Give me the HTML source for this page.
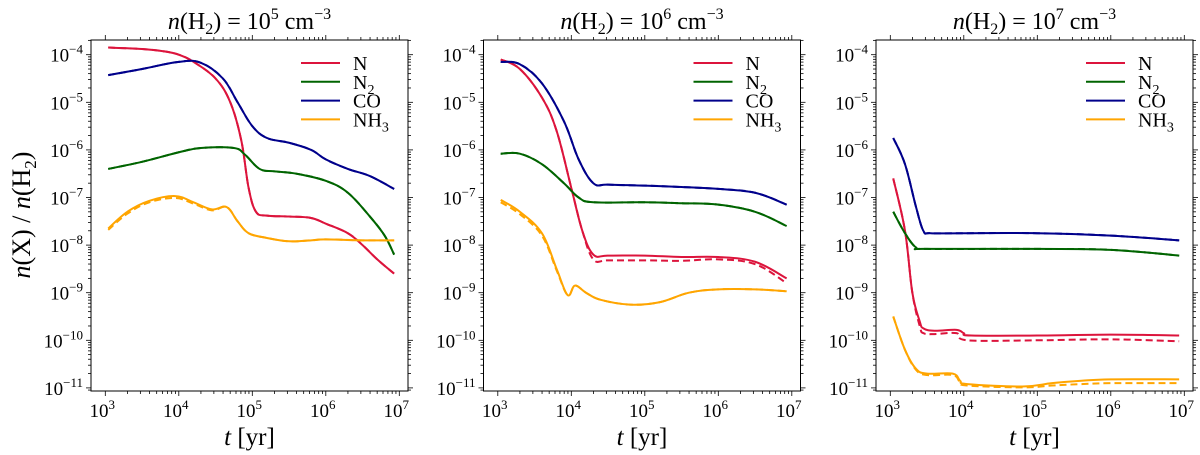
<!DOCTYPE html>
<html><head><meta charset="utf-8"><style>
body{margin:0;background:#fff}
svg{display:block;font-family:"Liberation Serif",serif}
</style></head><body>
<svg id="fig" width="1200" height="455" viewBox="0 0 1200 455" xmlns="http://www.w3.org/2000/svg"></svg>
<script>
const species = ["N","N2","CO","NH3"];
const colors = ["#dc143c","#006400","#00008b","#ffa500"];
const densityExp = [5,6,7];
const xTickExp = [3,4,5,6,7];
const yTickExp = [-4,-5,-6,-7,-8,-9,-10,-11];
// data: [log10 t, log10 abundance]
const p1N = [[3.04,-3.85],[3.5,-3.88],[3.8,-3.93],[4.0,-4.0],[4.2,-4.15],[4.5,-4.5],[4.7,-5.0],[4.85,-5.8],[4.95,-6.8],[5.05,-7.3],[5.2,-7.38],[5.5,-7.4],[5.8,-7.43],[6.0,-7.55],[6.3,-7.75],[6.5,-8.0],[6.7,-8.3],[6.93,-8.6]];
const p1N2 = [[3.04,-6.4],[3.5,-6.25],[4.0,-6.05],[4.3,-5.96],[4.75,-5.96],[4.9,-6.1],[5.1,-6.4],[5.3,-6.45],[5.6,-6.5],[6.0,-6.65],[6.3,-6.9],[6.6,-7.4],[6.8,-7.8],[6.93,-8.2]];
const p1CO = [[3.04,-4.43],[3.5,-4.3],[4.0,-4.15],[4.3,-4.17],[4.6,-4.5],[4.8,-5.0],[5.0,-5.5],[5.2,-5.75],[5.5,-5.85],[5.8,-6.0],[6.0,-6.2],[6.3,-6.4],[6.6,-6.55],[6.93,-6.82]];
const p1NH3 = [[3.04,-7.65],[3.3,-7.3],[3.6,-7.07],[3.95,-6.97],[4.2,-7.1],[4.45,-7.25],[4.65,-7.2],[4.8,-7.5],[4.95,-7.75],[5.2,-7.85],[5.5,-7.92],[5.8,-7.9],[6.0,-7.88],[6.5,-7.9],[6.93,-7.9]];
const p1NH3d = [[3.04,-7.68],[3.3,-7.34],[3.6,-7.1],[3.95,-7.01],[4.2,-7.13],[4.45,-7.27],[4.65,-7.2],[4.8,-7.5],[4.95,-7.75],[5.2,-7.85],[5.5,-7.92],[5.8,-7.9],[6.0,-7.88],[6.5,-7.9],[6.93,-7.9]];
const p2N = [[3.04,-4.1],[3.3,-4.3],[3.6,-4.9],[3.8,-5.6],[4.0,-6.8],[4.15,-7.7],[4.3,-8.2],[4.5,-8.22],[5,-8.22],[5.5,-8.25],[6,-8.25],[6.5,-8.35],[6.93,-8.7]];
const p2Nd = [[3.04,-4.1],[3.3,-4.3],[3.6,-4.9],[3.8,-5.6],[4.0,-6.8],[4.15,-7.7],[4.3,-8.3],[4.5,-8.32],[5,-8.32],[5.5,-8.33],[6,-8.3],[6.5,-8.4],[6.93,-8.8]];
const p2N2 = [[3.04,-6.08],[3.3,-6.08],[3.6,-6.3],[3.9,-6.7],[4.1,-7.0],[4.3,-7.1],[5,-7.1],[5.5,-7.12],[6,-7.15],[6.5,-7.3],[6.93,-7.6]];
const p2CO = [[3.04,-4.15],[3.3,-4.2],[3.6,-4.6],[3.9,-5.4],[4.1,-6.2],[4.3,-6.7],[4.5,-6.73],[5,-6.75],[5.5,-6.78],[6,-6.82],[6.5,-6.9],[6.93,-7.15]];
const p2NH3 = [[3.04,-7.05],[3.3,-7.3],[3.6,-7.75],[3.8,-8.5],[3.95,-9.05],[4.05,-8.85],[4.2,-9.0],[4.4,-9.15],[4.8,-9.25],[5.2,-9.2],[5.6,-9.0],[6.0,-8.93],[6.5,-8.93],[6.93,-8.97]];
const p2NH3d = [[3.04,-7.1],[3.3,-7.35],[3.6,-7.8],[3.8,-8.53],[3.95,-9.05],[4.05,-8.85],[4.2,-9.0],[4.4,-9.15],[4.8,-9.25],[5.2,-9.2],[5.6,-9.0],[6.0,-8.93],[6.5,-8.93],[6.93,-8.97]];
const p3N = [[3.04,-6.6],[3.2,-7.7],[3.3,-9.0],[3.4,-9.6],[3.45,-9.75],[3.6,-9.8],[3.9,-9.78],[4.0,-9.85],[4.1,-9.9],[5,-9.9],[6,-9.88],[6.93,-9.9]];
const p3Nd = [[3.04,-6.6],[3.2,-7.7],[3.3,-9.0],[3.4,-9.7],[3.45,-9.85],[3.6,-9.87],[3.9,-9.85],[4.05,-10.0],[5,-10.0],[6,-9.98],[6.93,-10.02]];
const p3N2 = [[3.04,-7.3],[3.2,-7.75],[3.35,-8.05],[3.5,-8.08],[5,-8.08],[6,-8.1],[6.93,-8.22]];
const p3CO = [[3.04,-5.75],[3.2,-6.3],[3.35,-7.2],[3.45,-7.7],[3.55,-7.75],[4,-7.75],[5,-7.75],[6,-7.8],[6.93,-7.9]];
const p3NH3 = [[3.04,-9.5],[3.2,-10.2],[3.35,-10.6],[3.5,-10.7],[3.85,-10.7],[3.95,-10.85],[4.05,-10.92],[4.8,-10.97],[5.2,-10.9],[5.6,-10.85],[6,-10.82],[6.93,-10.82]];
const p3NH3d = [[3.04,-9.5],[3.2,-10.2],[3.35,-10.62],[3.5,-10.73],[3.85,-10.73],[3.95,-10.88],[4.05,-10.95],[4.8,-10.99],[5.2,-10.95],[5.6,-10.92],[6,-10.9],[6.93,-10.9]];

const panels = [
 {solid:[p1N,p1N2,p1CO,p1NH3], dashed:[p1N,p1N2,p1CO,p1NH3d]},
 {solid:[p2N,p2N2,p2CO,p2NH3], dashed:[p2Nd,p2N2,p2CO,p2NH3d]},
 {solid:[p3N,p3N2,p3CO,p3NH3], dashed:[p3Nd,p3N2,p3CO,p3NH3d]}
];
const NS="http://www.w3.org/2000/svg";
const svg=document.getElementById('fig');
function mk(tag,attrs,parent){const e=document.createElementNS(NS,tag);for(const k in attrs)e.setAttribute(k,attrs[k]);(parent||svg).appendChild(e);return e;}
function smooth(pts){
  let d='M'+pts[0][0]+','+pts[0][1];
  for(let i=0;i<pts.length-1;i++){
    const p0=pts[Math.max(0,i-1)],p1=pts[i],p2=pts[i+1],p3=pts[Math.min(pts.length-1,i+2)];
    const t=0.18;
    const c1=[p1[0]+(p2[0]-p0[0])*t,p1[1]+(p2[1]-p0[1])*t];
    const c2=[p2[0]-(p3[0]-p1[0])*t,p2[1]-(p3[1]-p1[1])*t];
    d+=' C'+c1[0]+','+c1[1]+' '+c2[0]+','+c2[1]+' '+p2[0]+','+p2[1];
  }
  return d;
}

const W=317, topY=40, bot=391;
panels.forEach((p,i)=>{
  const left=91+392.5*i;
  const xs=v=>left+14.3+(v-3)*73.5;
  const ys=v=>54.7+(-4-v)*47.6;
  const g=mk('g',{});
  
  
  const t=mk('text',{x:left+W/2,y:29,'text-anchor':'middle','font-size':24},g);
  
  
  t.innerHTML='<tspan font-style="italic">n</tspan>(H<tspan font-size="16" dy="5">2</tspan><tspan dy="-5">) = 10</tspan><tspan font-size="16" dy="-10">'+densityExp[i]+'</tspan><tspan dy="10"> cm</tspan><tspan font-size="16" dy="-10">−3</tspan>';
  for(let d=3;d<=7;d++){
    for(let m=1;m<10;m++){
      const v=d+Math.log10(m); if(v>7.02)break;
      const x=xs(v); if(x<left||x>left+W)continue;
      const L=m==1?5:3;
      mk('line',{x1:x,x2:x,y1:bot,y2:bot+L,stroke:'#000','stroke-width':0.8},g);
      mk('line',{x1:x,x2:x,y1:topY,y2:topY-L,stroke:'#000','stroke-width':0.8},g);
    }
  }
  for(let d=-12;d<=-4;d++){
    for(let m=1;m<10;m++){
      const v=d+Math.log10(m); const y=ys(v); if(y<topY||y>bot)continue;
      const L=m==1?5:3;
      mk('line',{x1:left,x2:left-L,y1:y,y2:y,stroke:'#000','stroke-width':0.8},g);
      mk('line',{x1:left+W,x2:left+W+L,y1:y,y2:y,stroke:'#000','stroke-width':0.8},g);
    }
  }
  xTickExp.forEach(e=>{
    const tx=mk('text',{x:xs(e)-3,y:bot+26,'text-anchor':'middle','font-size':19},g);
    
    
    tx.innerHTML='10<tspan font-size="13" dy="-8">'+e+'</tspan>';
  });
  yTickExp.forEach(e=>{
    const ty=mk('text',{x:left-8,y:ys(e)+7,'text-anchor':'end','font-size':19},g);
    
    
    ty.innerHTML='10<tspan font-size="13" dy="-8">−'+(-e)+'</tspan>';
  });
  const xl=mk('text',{x:left+W/2,y:445,'text-anchor':'middle','font-size':25},g);
  
  
  xl.innerHTML='<tspan font-style="italic">t</tspan> [yr]';
  p.dashed.forEach((s,k)=>{
    const pl=mk('path',{d:smooth(s.map(q=>[xs(q[0]),ys(q[1])])),fill:'none',stroke:colors[k],'stroke-width':2,'stroke-dasharray':'7,4'},g);
    
    
  });
  p.solid.forEach((s,k)=>{
    const pl=mk('path',{d:smooth(s.map(q=>[xs(q[0]),ys(q[1])])),fill:'none',stroke:colors[k],'stroke-width':2,'stroke-linejoin':'round'},g);
    
    
  });
  const fr=mk('rect',{x:left,y:topY,width:W,height:bot-topY,fill:'none',stroke:'#000','stroke-width':1},g);
  
  
  const lbl=['N','N<tspan font-size="14" dy="5">2</tspan>','CO','NH<tspan font-size="14" dy="5">3</tspan>'];
  species.forEach((s,k)=>{
    const y=63+18.8*k;
    const le=mk('g',{},g);
    
    
    mk('line',{x1:left+210,x2:left+249,y1:y,y2:y,stroke:colors[k],'stroke-width':2},le);
    const lt=mk('text',{x:left+262,y:y+7,'font-size':20},le);
    lt.innerHTML=lbl[k];
  });
});
const yl=mk('text',{x:0,y:0,'text-anchor':'middle','font-size':26,transform:'translate(30,215) rotate(-90)'});


yl.innerHTML='<tspan font-style="italic">n</tspan>(X) / <tspan font-style="italic">n</tspan>(H<tspan font-size="17" dy="6">2</tspan><tspan dy="-6">)</tspan>';
</script>
</body></html>
